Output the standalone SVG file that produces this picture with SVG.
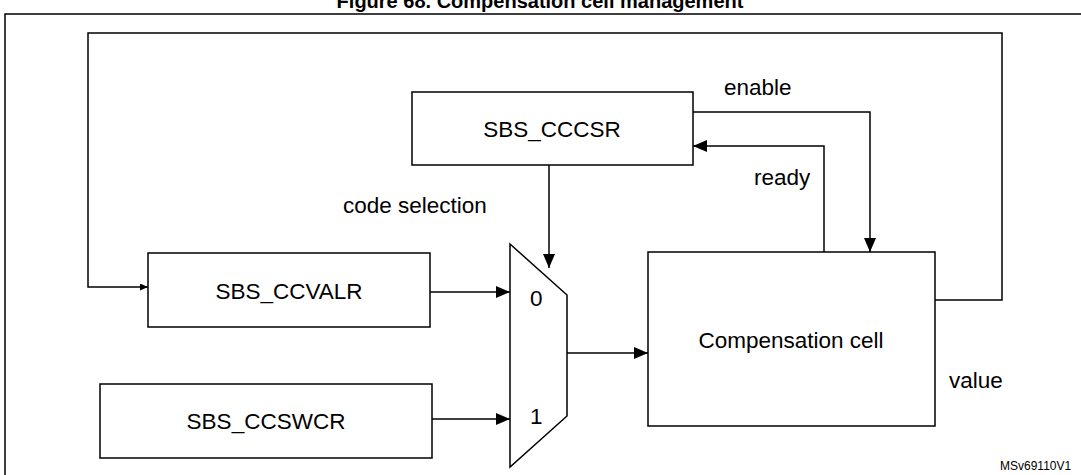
<svg xmlns="http://www.w3.org/2000/svg" width="1081" height="475" viewBox="0 0 1081 475">
<defs>
<marker id="a" markerWidth="14" markerHeight="12" refX="14" refY="6" orient="auto" markerUnits="userSpaceOnUse"><path d="M0,0 L14,6 L0,12 Z" fill="#000"/></marker>
<marker id="s" markerWidth="8" markerHeight="7" refX="8" refY="3.5" orient="auto" markerUnits="userSpaceOnUse"><path d="M0,0 L8,3.5 L0,7 Z" fill="#000"/></marker>
<style>
.b{fill:#fff;stroke:#000;stroke-width:1.5}
.t{font-family:"Liberation Sans",Arial,sans-serif;font-size:22.5px;fill:#000}
.c{fill:none;stroke:#000;stroke-width:1.5}
</style>
</defs>
<rect width="1081" height="475" fill="#fff"/>
<text x="540" y="8" text-anchor="middle" style="font-family:'Liberation Sans',Arial,sans-serif;font-size:20px;font-weight:bold">Figure 68. Compensation cell management</text>
<rect x="5" y="14" width="1080" height="470" fill="none" stroke="#000" stroke-width="1.5"/>
<g id="connectors">
<path class="c" d="M935,300 H1002 V33 H88 V287 H148" marker-end="url(#s)"/>
<path class="c" d="M430,292 H510" marker-end="url(#a)"/>
<path class="c" d="M432,419 H510" marker-end="url(#a)"/>
<path class="c" d="M567,353 H648" marker-end="url(#a)"/>
<path class="c" d="M549,165 V268" marker-end="url(#a)"/>
<path class="c" d="M693,112 H870 V252" marker-end="url(#a)"/>
<path class="c" d="M824,252 V146 H693" marker-end="url(#a)"/>
<text class="t" x="724" y="95">enable</text>
<text class="t" x="754" y="185">ready</text>
<text class="t" x="343" y="213">code selection</text>
<text class="t" x="949" y="388">value</text>
</g>
<g id="sbs_cccsr"><rect class="b" x="412" y="92" width="281" height="73"/><text class="t" x="552" y="137" text-anchor="middle">SBS_CCCSR</text></g>
<g id="sbs_ccvalr"><rect class="b" x="148" y="253" width="282" height="74"/><text class="t" x="289" y="299" text-anchor="middle">SBS_CCVALR</text></g>
<g id="sbs_ccswcr"><rect class="b" x="100" y="384" width="332" height="74"/><text class="t" x="266" y="429" text-anchor="middle">SBS_CCSWCR</text></g>
<g id="mux"><path class="b" d="M510,244 L567,295 V416 L510,467 Z"/><text class="t" x="530" y="306">0</text><text class="t" x="530" y="424">1</text></g>
<g id="compensation_cell"><rect class="b" x="648" y="252" width="287" height="174"/><text class="t" x="791" y="348" text-anchor="middle">Compensation cell</text></g>
<text x="1000" y="470" style="font-family:'Liberation Sans',Arial,sans-serif;font-size:12px">MSv69110V1</text>
</svg>
